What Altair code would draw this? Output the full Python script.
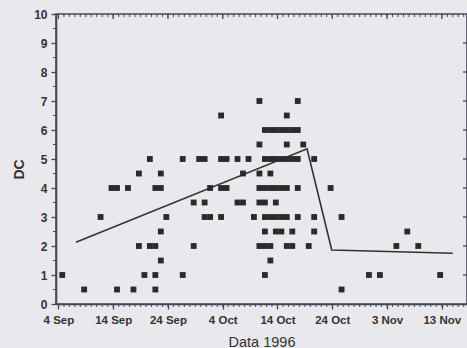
import json
import altair as alt
import pandas as pd

# ---- data ----
# tick labels on the date axis (days after 4 Sep 1996)
tick_days = [0, 10, 20, 30, 40, 50, 60, 70]
tick_labels = ["4 Sep", "14 Sep", "24 Sep", "4 Oct", "14 Oct", "24 Oct", "3 Nov", "13 Nov"]

# observations: day after 4 Sep 1996 and DC value
obs_day = (
    [36, 43]
    + [29, 41]
    + [37, 38, 39, 40, 41, 42, 43]
    + [36, 41, 44]
    + [16, 22, 25, 26, 29, 30, 32, 34, 37, 38, 39, 40, 41, 42, 43, 46]
    + [14, 18, 33, 36, 38]
    + [9, 10, 12, 17, 18, 27, 29, 30, 36, 37, 38, 39, 40, 41, 43, 49]
    + [24, 26, 32, 33, 36, 37, 39]
    + [7, 19, 26, 27, 29, 35, 37, 38, 39, 40, 41, 43, 46, 51]
    + [18, 37, 39, 40, 42, 46, 63]
    + [14, 16, 17, 24, 36, 37, 38, 41, 42, 45, 61, 65]
    + [18, 38]
    + [0, 15, 17, 22, 37, 56, 58, 69]
    + [4, 10, 13, 17, 51]
)
obs_dc = (
    [7] * 2
    + [6.5] * 2
    + [6] * 7
    + [5.5] * 3
    + [5] * 16
    + [4.5] * 5
    + [4] * 16
    + [3.5] * 7
    + [3] * 14
    + [2.5] * 7
    + [2] * 12
    + [1.5] * 2
    + [1] * 8
    + [0.5] * 5
)

# trend line (piecewise)
trend_day = [2.5, 44.7, 49.2, 71.3]
trend_dc = [2.13, 5.35, 1.86, 1.75]

# ---- chart ----
W, H = 411, 290
AX = "#4a4458"
INK = "#2a2a2a"
FONT = "Liberation Sans"

points_df = pd.DataFrame({"obs_day": obs_day, "dc": obs_dc})
trend_df = pd.DataFrame({"obs_day": trend_day, "dc": trend_dc})
minor_x_df = pd.DataFrame({"day": list(range(0, 75))})
major_x_df = pd.DataFrame({"day": tick_days})
minor_y_df = pd.DataFrame({"dc": [k + 0.5 for k in range(10)]})
major_y_df = pd.DataFrame({"dc": list(range(1, 10))})

xs = alt.Scale(domain=[-0.44, 74.6], nice=False, zero=False)
ys = alt.Scale(domain=[0, 10], nice=False, zero=False)

label_expr = json.dumps(tick_labels) + "[round(datum.value/10)]"
xaxis = alt.Axis(
    values=tick_days, labelExpr=label_expr, title="Data 1996",
    tickSize=5, labelPadding=5, grid=False,
    domainColor=AX, domainWidth=1.6, tickColor=AX, tickWidth=1.3,
    labelFont=FONT, labelFontSize=11.5, labelFontWeight="bold", labelColor="#333333",
    titleFont=FONT, titleFontSize=14.5, titleFontWeight="normal", titleColor="#333333",
    titleY=38, titleBaseline="middle",
)
yaxis = alt.Axis(
    values=list(range(0, 11)), title="DC",
    tickSize=5, labelPadding=4, grid=False,
    domainColor=AX, domainWidth=1.6, tickColor=AX, tickWidth=1.3,
    labelFont=FONT, labelFontSize=12, labelFontWeight="bold", labelColor="#333333",
    titleFont=FONT, titleFontSize=14, titleFontWeight="bold", titleColor="#333333",
    titleX=-37, titleY=155, titleBaseline="middle",
)

X = alt.X("day:Q", scale=xs, axis=xaxis)
Y = alt.Y("dc:Q", scale=ys, axis=yaxis)

pts = (
    alt.Chart(points_df)
    .transform_calculate(day="datum.obs_day + 0.7")
    .mark_square(size=34, color=INK, opacity=1, filled=True)
    .encode(x=X, y=Y)
)
trend = (
    alt.Chart(trend_df)
    .transform_calculate(day="datum.obs_day + 0.7")
    .mark_line(color="#333333", strokeWidth=1.6)
    .encode(x=X, y=Y)
)

bottom_minor = alt.Chart(minor_x_df).mark_rule(color=AX, strokeWidth=1).encode(
    x=X, y=alt.value(H), y2=alt.value(H + 3))
top_minor = alt.Chart(minor_x_df).mark_rule(color=AX, strokeWidth=1).encode(
    x=X, y=alt.value(0), y2=alt.value(3))
top_major = alt.Chart(major_x_df).mark_rule(color=AX, strokeWidth=1.3).encode(
    x=X, y=alt.value(0), y2=alt.value(5))
left_minor = alt.Chart(minor_y_df).mark_rule(color=AX, strokeWidth=1).encode(
    y=Y, x=alt.value(0), x2=alt.value(-3))
right_major = alt.Chart(major_y_df).mark_rule(color=AX, strokeWidth=1.3).encode(
    y=Y, x=alt.value(W - 4), x2=alt.value(W))

chart = (
    alt.layer(bottom_minor, top_minor, top_major, left_minor, right_major, trend, pts)
    .properties(
        width=W, height=H,
        autosize=alt.AutoSizeParams(type="none"),
        padding={"left": 56, "top": 14, "right": 0, "bottom": 44},
        background="#e8e8ed",
    )
    .configure_view(stroke=AX, strokeWidth=1.6)
)

chart.save("out.html", embed_options={"renderer": "svg", "actions": False})
